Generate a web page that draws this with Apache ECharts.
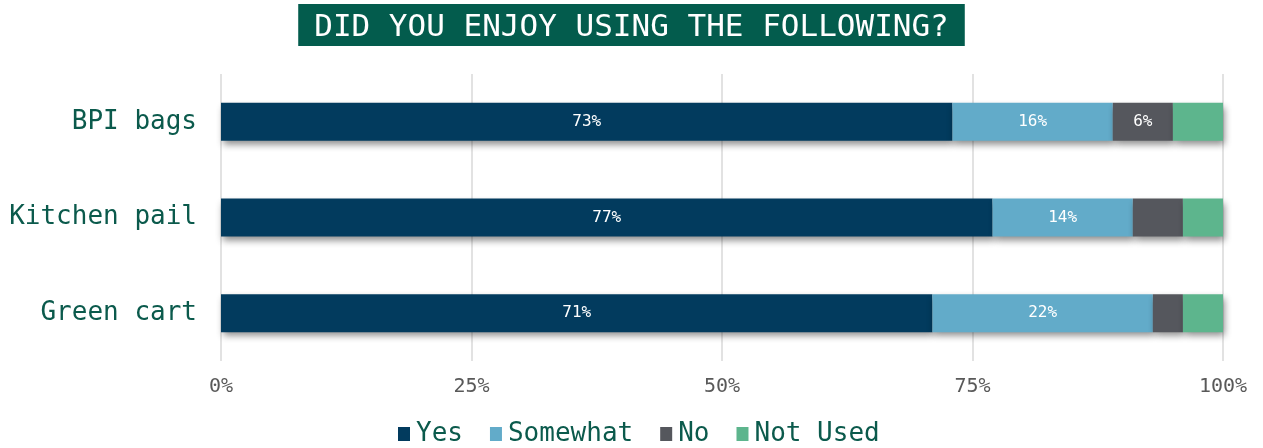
<!DOCTYPE html>
<html>
<head>
<meta charset="utf-8">
<script src="https://cdn.jsdelivr.net/npm/echarts@6/dist/echarts.min.js"></script>
<style>
  html, body { margin: 0; padding: 0; background: #fff; }
  #chart { width: 1263px; height: 448px; }
</style>
</head>
<body>
<div id="chart"></div>
<script>
// Survey: "Did you enjoy using the following?" (percent of respondents)
const categories = ['BPI bags', 'Kitchen pail', 'Green cart'];
const seriesNames = ['Yes', 'Somewhat', 'No', 'Not Used'];
const yesValues = [73, 77, 71];
const somewhatValues = [16, 14, 22];
const noValues = [6, 5, 3];
const notUsedValues = [5, 4, 4];
const xTicks = [0, 25, 50, 75, 100];

const colors = ['#023b5e', '#62abc9', '#55575d', '#5db58d'];
const FONT = '"DejaVu Sans Mono", monospace';
const TEAL = '#0b5a4c';

const chart = echarts.init(document.getElementById('chart'), null, { renderer: 'canvas' });

const valueSets = [yesValues, somewhatValues, noValues, notUsedValues];

const series = seriesNames.map((name, i) => ({
  name: name,
  type: 'bar',
  stack: 'total',
  barWidth: 38,
  data: valueSets[i],
  itemStyle: {
    color: colors[i],
    shadowColor: 'rgba(0,0,0,0.45)',
    shadowBlur: 7,
    shadowOffsetX: 2,
    shadowOffsetY: 4
  },
  label: {
    show: true,
    position: 'inside',
    color: '#ffffff',
    fontFamily: FONT,
    fontSize: 16,
    formatter: p => (p.value >= 6 ? p.value + '%' : '')
  },
  emphasis: { disabled: true }
}));

chart.setOption({
  animation: false,
  textStyle: { fontFamily: FONT },
  title: {
    text: 'DID YOU ENJOY USING THE FOLLOWING?',
    left: 'center',
    top: 4,
    backgroundColor: '#035c4d',
    padding: [8, 16, 2, 16],
    textStyle: {
      color: '#ffffff',
      fontFamily: FONT,
      fontSize: 31,
      fontWeight: 'normal',
      lineHeight: 32
    }
  },
  legend: {
    data: seriesNames,
    top: 421,
    left: 398,
    padding: 0,
    icon: 'rect',
    itemWidth: 12,
    itemHeight: 14,
    itemGap: 27,
    textStyle: { color: TEAL, fontFamily: FONT, fontSize: 26, padding: [0, 0, 0, 1] }
  },
  grid: { left: 221, right: 40, top: 74, bottom: 87, containLabel: false },
  xAxis: {
    type: 'value',
    min: 0,
    max: 100,
    interval: 25,
    axisLine: { show: false },
    axisTick: { show: false },
    splitLine: { show: true, lineStyle: { color: '#d9d9d9', width: 1.5 } },
    axisLabel: {
      margin: 16,
      color: '#595959',
      fontFamily: FONT,
      fontSize: 20,
      formatter: v => (xTicks.includes(v) ? v + '%' : '')
    }
  },
  yAxis: {
    type: 'category',
    data: categories,
    inverse: true,
    axisLine: { show: false },
    axisTick: { show: false },
    axisLabel: { margin: 24, color: TEAL, fontFamily: FONT, fontSize: 26 }
  },
  series: series
});
</script>
</body>
</html>
